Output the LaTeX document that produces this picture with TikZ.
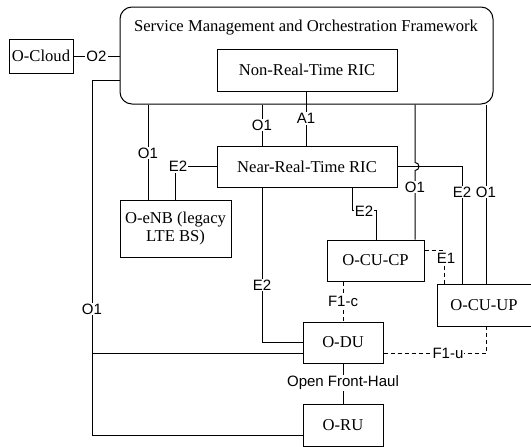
\documentclass[tikz,border=0pt]{standalone}
\usepackage{fontspec}
\setmainfont{Liberation Serif}
\newfontfamily\lblfont{Liberation Sans}
\begin{document}
\begin{tikzpicture}[x=1pt,y=-1pt,
  box/.style={draw,line width=1pt,inner sep=0pt,font=\fontsize{16.6}{18.5}\selectfont,align=center},
  lbl/.style={fill=white,inner sep=1pt,font=\lblfont\fontsize{15}{16}\selectfont},
  ln/.style={line width=1pt},
  dl/.style={line width=1pt,dash pattern=on 4pt off 3pt}]
\useasboundingbox (0,0) rectangle (531,447);
\node[box,rounded corners=12pt,minimum width=373pt,minimum height=97pt] (SMO) at (306.5,55.5) {};
\node[font=\fontsize{16.6}{18.5}\selectfont] (title) at (306,28) {Service Management and Orchestration Framework};
\node[box,minimum width=180pt,minimum height=42pt] (NonRT) at (307,70) {Non-Real-Time RIC};
\node[box,minimum width=64pt,minimum height=34pt] (OCloud) at (41,56) {O-Cloud};
\node[box,minimum width=180pt,minimum height=41pt] (NearRT) at (307,166.5) {Near-Real-Time RIC};
\node[box,minimum width=111pt,minimum height=57pt] (OeNB) at (175.5,228.5) {O-eNB (legacy\\LTE BS)};
\node[box,minimum width=97pt,minimum height=41pt] (OCUCP) at (375.5,260.5) {O-CU-CP};
\node[box,minimum width=94pt,minimum height=42pt] (OCUUP) at (484,305) {O-CU-UP};
\node[box,minimum width=80pt,minimum height=41pt] (ODU) at (343,342.5) {O-DU};
\node[box,minimum width=80pt,minimum height=42pt] (ORU) at (343,425) {O-RU};
% O2
\draw[ln] (OCloud.east) -- node[lbl] (lO2) {O2} (OCloud.east -| SMO.west);
% O1 left trunk
\coordinate (t1) at (92,80);
\coordinate (t2) at (92,435);
\coordinate (t3) at (92,353);
\draw[ln] (SMO.west |- t1) -- (t1) -- (t2) -- (ORU.west |- t2);
\node[lbl] (lO1a) at (92,309) {O1};
\draw[ln] (t3) -- (ODU.west |- t3);
% O1 to O-eNB
\coordinate (o1b) at (148,153);
\draw[ln] (o1b |- SMO.south) -- (o1b |- OeNB.north);
\node[lbl] (lO1b) at (o1b) {O1};
% O1 to Near-RT
\draw[ln] (262,0 |- SMO.south) -- node[lbl] (lO1c) {O1} (262,0 |- NearRT.north);
% A1
\draw[ln] (306,0 |- NonRT.south) -- node[lbl] (lA1) {A1} (306,0 |- NearRT.north);
% E2 to O-eNB
\coordinate (e2a) at (175,166.5);
\draw[ln] (NearRT.west) -- (e2a) -- (e2a |- OeNB.north);
\node[lbl] (lE2a) at (178,166.5) {E2};
% E2 to O-DU
\coordinate (e2b) at (262,342);
\draw[ln] (262,0 |- NearRT.south) -- (e2b) -- (ODU.west |- e2b);
\node[lbl] (lE2b) at (262,285) {E2};
% E2 to O-CU-CP
\coordinate (e2c1) at (352,210);
\coordinate (e2c2) at (376,210);
\draw[ln] (e2c1 |- NearRT.south) -- (e2c1) -- (e2c2) -- (e2c2 |- OCUCP.north);
\node[lbl] (lE2c) at (364,211) {E2};
% O1 to O-CU-CP with jump
\coordinate (j1) at (415,162.5);
\coordinate (j2) at (415,170.5);
\draw[ln] (j1 |- SMO.south) -- (j1) arc[start angle=90,end angle=-90,radius=4pt] -- (j2 |- OCUCP.north);
\node[lbl] (lO1d) at (415,187) {O1};
% E2 to O-CU-UP
\coordinate (e2d) at (462,166.5);
\draw[ln] (NearRT.east) -- (e2d) -- (e2d |- OCUUP.north);
\node[lbl] (lE2d) at (462,192) {E2};
% O1 to O-CU-UP
\coordinate (o1e) at (486,192);
\draw[ln] (o1e |- SMO.south) -- (o1e |- OCUUP.north);
\node[lbl] (lO1e) at (o1e) {O1};
% E1 dashed
\coordinate (e1) at (444,250);
\draw[dl] (OCUCP.east |- e1) -- (e1) -- (e1 |- OCUUP.north);
\node[lbl] (lE1) at (446,258) {E1};
% F1-c dashed
\draw[dl] (343,0 |- OCUCP.south) -- (ODU.north);
\node[lbl] (lF1c) at (343,301) {F1-c};
% F1-u dashed
\coordinate (f1u) at (486,353);
\draw[dl] (ODU.east |- f1u) -- (f1u) -- (f1u |- OCUUP.south);
\node[lbl] (lF1u) at (448,353) {F1-u};
% Open Front-Haul
\draw[ln] (ODU.south) -- (ORU.north);
\node[lbl] (lOFH) at (343,383) {Open Front-Haul};
\end{tikzpicture}
\end{document}
